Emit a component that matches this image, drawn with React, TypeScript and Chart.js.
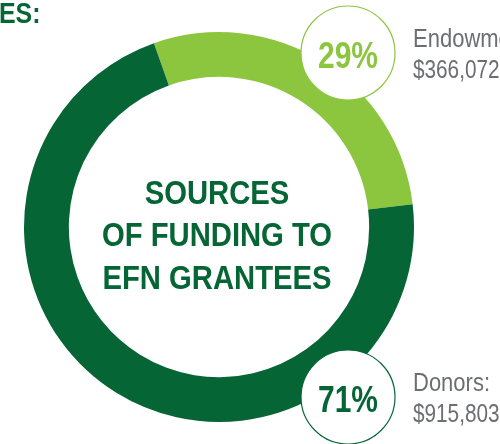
import React, { useEffect, useRef } from "react";
import { Chart, registerables } from "chart.js";

Chart.register(...registerables);

const categories = ["Endowment", "Donors"];
const amounts = [366072, 915803];
const colors = ["#8CC63F", "#066535"];
const centerLines = ["SOURCES", "OF FUNDING TO", "EFN GRANTEES"];
const headingFragment = "ES:";

const FONT = '"Liberation Sans", Arial, sans-serif';

function scaledText(
  ctx: CanvasRenderingContext2D,
  text: string,
  x: number,
  y: number,
  sx: number,
  align: CanvasTextAlign
) {
  ctx.save();
  ctx.translate(x, y);
  ctx.scale(sx, 1);
  ctx.textAlign = align;
  ctx.textBaseline = "alphabetic";
  ctx.fillText(text, 0, 0);
  ctx.restore();
}

const overlayPlugin = {
  id: "overlay",
  afterDraw(chart: any) {
    const ctx = chart.ctx as CanvasRenderingContext2D;
    const arc = chart.getDatasetMeta(0).data[0] as any;
    const cx = arc.x;
    const cy = arc.y;
    const total = amounts.reduce((a, b) => a + b, 0);
    ctx.save();

    // heading fragment
    ctx.fillStyle = "#066535";
    ctx.font = `bold 30px ${FONT}`;
    scaledText(ctx, headingFragment, -1, 23, 0.83, "left");

    // center text
    ctx.fillStyle = "#066535";
    ctx.font = `bold 34px ${FONT}`;
    const baselines = [-23, 19, 62];
    centerLines.forEach((line, i) => {
      scaledText(ctx, line, cx - 2, cy + baselines[i], 0.86, "center");
    });

    // badges
    const badges = [
      { dx: 129, dy: -174 },
      { dx: 129, dy: 170 },
    ];
    categories.forEach((cat, i) => {
      const bx = cx + badges[i].dx;
      const by = cy + badges[i].dy;
      ctx.beginPath();
      ctx.arc(bx, by, 47, 0, Math.PI * 2);
      ctx.fillStyle = "#ffffff";
      ctx.fill();
      ctx.lineWidth = 1.2;
      ctx.strokeStyle = colors[i];
      ctx.stroke();

      const pct = Math.round((amounts[i] / total) * 100);
      ctx.fillStyle = colors[i];
      ctx.font = `bold 37px ${FONT}`;
      scaledText(ctx, `${pct}%`, bx, by + 15, 0.81, "center");

      ctx.fillStyle = "#6D6E71";
      ctx.font = `25px ${FONT}`;
      scaledText(ctx, `${cat}:`, bx + 65, by - 6, 0.88, "left");
      scaledText(ctx, "$" + amounts[i].toLocaleString("en-US"), bx + 65, by + 25, 0.83, "left");
    });
    ctx.restore();
  },
};

export default function App() {
  const ref = useRef<HTMLCanvasElement | null>(null);
  useEffect(() => {
    if (!ref.current) return;
    const chart = new Chart(ref.current, {
      type: "doughnut",
      data: {
        labels: categories,
        datasets: [
          {
            data: amounts,
            backgroundColor: colors,
            borderWidth: 0,
          },
        ],
      },
      options: {
        responsive: false,
        animation: false,
        cutout: "77%",
        rotation: -19.5,
        layout: { padding: { left: 24, right: 86, top: 32, bottom: 22 } },
        plugins: {
          legend: { display: false },
          tooltip: { enabled: false },
        },
      },
      plugins: [overlayPlugin],
    });
    return () => chart.destroy();
  }, []);
  return (
    <div style={{ position: "fixed", left: 0, top: 0, width: 500, height: 444, background: "#fff" }}>
      <canvas ref={ref} width={500} height={444} style={{ width: 500, height: 444 }} />
    </div>
  );
}
